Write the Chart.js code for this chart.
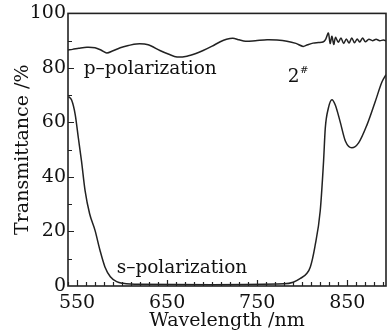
<!DOCTYPE html>
<html lang="en">
<head>
<meta charset="UTF-8">
<title>Transmittance 2#</title>
<script src="https://cdn.jsdelivr.net/npm/chart.js"></script>
<style>
  html, body { margin: 0; padding: 0; background: #fff; }
  #wrap { position: relative; width: 391px; height: 336px; }
</style>
</head>
<body>
<div id="wrap"><canvas id="chart"></canvas></div>
<script>
// p-polarization curve (wavelength nm, transmittance %)
const pWave = [540, 545, 552, 561, 570, 577, 583, 590, 598, 607, 616, 629, 642, 652, 661, 672, 682, 690, 700, 709, 716, 723, 730, 737, 748, 761, 772, 783, 793, 801, 806, 812, 818, 823, 826, 829, 831, 833, 835, 837, 840, 843, 846, 849, 852, 855, 858, 861, 864, 867, 870, 874, 878, 882, 886, 890, 893];
const pVals = [86.6, 86.8, 87.2, 87.6, 87.4, 86.5, 85.5, 86.3, 87.4, 88.2, 88.8, 88.5, 86.4, 85.0, 84.0, 84.3, 85.3, 86.4, 88.0, 89.6, 90.5, 90.9, 90.3, 89.8, 90.0, 90.3, 90.2, 89.8, 89.0, 87.9, 88.5, 89.1, 89.3, 89.5, 90.5, 92.8, 89.0, 91.6, 88.6, 91.2, 89.4, 91.0, 89.0, 90.6, 89.1, 91.0, 89.2, 90.6, 89.5, 91.0, 89.6, 90.5, 90.0, 90.5, 90.0, 90.2, 90.0];

// s-polarization curve
const sWave = [540.5, 544, 548, 551.5, 555, 559, 564, 570, 575.5, 581, 587, 594, 601, 620, 700, 780, 790, 798, 805, 809, 814, 820, 823.7, 825.6, 829, 833, 836.7, 842, 848, 855, 862.6, 872, 881, 888.6, 893];
const sVals = [69.5, 68.2, 62.9, 54.3, 45.8, 34.9, 26.5, 20.4, 13.1, 7.0, 3.4, 1.6, 1.0, 0.6, 0.5, 0.8, 1.4, 2.8, 4.6, 7.0, 14.3, 27.6, 45.8, 57.9, 65.2, 68.3, 66.4, 60.4, 53.1, 50.7, 52.5, 59.2, 67.6, 74.9, 77.5];

const xTicks = [550, 650, 750, 850];
const yTicks = [0, 20, 40, 60, 80, 100];
const xMinor = [540, 550, 560, 570, 580, 590, 600, 610, 620, 630, 640, 650, 660, 670, 680, 690, 700, 710, 720, 730, 740, 750, 760, 770, 780, 790, 800, 810, 820, 830, 840, 850, 860, 870, 880, 890];
const yMinor = [10, 20, 30, 40, 50, 60, 70, 80, 90];

const labels = [
  { text: 'p\u2013polarization', x: 557.5, y: 79.6 },
  { text: 's\u2013polarization', x: 594, y: 6.5 },
  { text: '2', sup: '#', x: 784, y: 76.5 }
];

const FONT = '"DejaVu Serif", serif';
const INK = '#222';

const frame = {
  id: 'frame',
  afterDraw(chart) {
    const { ctx, chartArea: a, scales: { x, y } } = chart;
    ctx.save();
    ctx.strokeStyle = INK;
    ctx.lineWidth = 1.6;
    ctx.strokeRect(a.left, a.top, a.right - a.left, a.bottom - a.top);
    ctx.lineWidth = 1.2;
    ctx.beginPath();
    xMinor.forEach(v => {
      const px = Math.round(x.getPixelForValue(v)) + 0.5;
      const len = xTicks.includes(v) ? 6 : 4;
      ctx.moveTo(px, a.bottom);
      ctx.lineTo(px, a.bottom - len);
    });
    yMinor.forEach(v => {
      const py = Math.round(y.getPixelForValue(v)) + 0.5;
      const len = yTicks.includes(v) ? 6 : 4;
      ctx.moveTo(a.left, py);
      ctx.lineTo(a.left + len, py);
    });
    ctx.stroke();

    ctx.fillStyle = '#111';
    ctx.textBaseline = 'middle';
    ctx.textAlign = 'left';
    labels.forEach(l => {
      const px = x.getPixelForValue(l.x);
      const py = y.getPixelForValue(l.y);
      ctx.font = '18.5px ' + FONT;
      ctx.fillText(l.text, px, py);
      if (l.sup) {
        const w = ctx.measureText(l.text).width;
        ctx.font = '10px ' + FONT;
        ctx.fillText(l.sup, px + w + 0.5, py - 7);
      }
    });
    ctx.restore();
  }
};

const ctx = document.getElementById('chart').getContext('2d');
new Chart(ctx, {
  type: 'line',
  data: {
    datasets: [
      {
        label: 'p-polarization',
        data: pWave.map((w, i) => ({ x: w, y: pVals[i] })),
        borderColor: INK,
        borderWidth: 1.5,
        pointRadius: 0,
        tension: 0.3,
        fill: false
      },
      {
        label: 's-polarization',
        data: sWave.map((w, i) => ({ x: w, y: sVals[i] })),
        borderColor: INK,
        borderWidth: 1.5,
        pointRadius: 0,
        cubicInterpolationMode: 'monotone',
        fill: false
      }
    ]
  },
  options: {
    responsive: true,
    maintainAspectRatio: false,
    animation: false,
    layout: { padding: { top: 11, right: 5, left: 0, bottom: 0 } },
    plugins: { legend: { display: false }, tooltip: { enabled: false } },
    scales: {
      x: {
        type: 'linear',
        min: 540,
        max: 893,
        afterBuildTicks: s => { s.ticks = xTicks.map(v => ({ value: v })); },
        afterFit: s => { s.height = 50; },
        grid: { display: false, drawTicks: false },
        border: { display: false },
        ticks: { color: '#111', padding: 6, maxRotation: 0, font: { family: FONT, size: 19 } },
        title: { display: true, text: 'Wavelength /nm', color: '#111', padding: { top: 0 }, font: { family: FONT, size: 19 } }
      },
      y: {
        min: 0,
        max: 100,
        afterBuildTicks: s => { s.ticks = yTicks.map(v => ({ value: v })); },
        afterFit: s => { s.width = 68; },
        grid: { display: false, drawTicks: false },
        border: { display: false },
        ticks: { color: '#111', padding: 2, font: { family: FONT, size: 19 } },
        title: { display: true, text: 'Transmittance /%', color: '#111', padding: { bottom: 0, top: 12 }, font: { family: FONT, size: 19 } }
      }
    }
  },
  plugins: [frame]
});
</script>
</body>
</html>
